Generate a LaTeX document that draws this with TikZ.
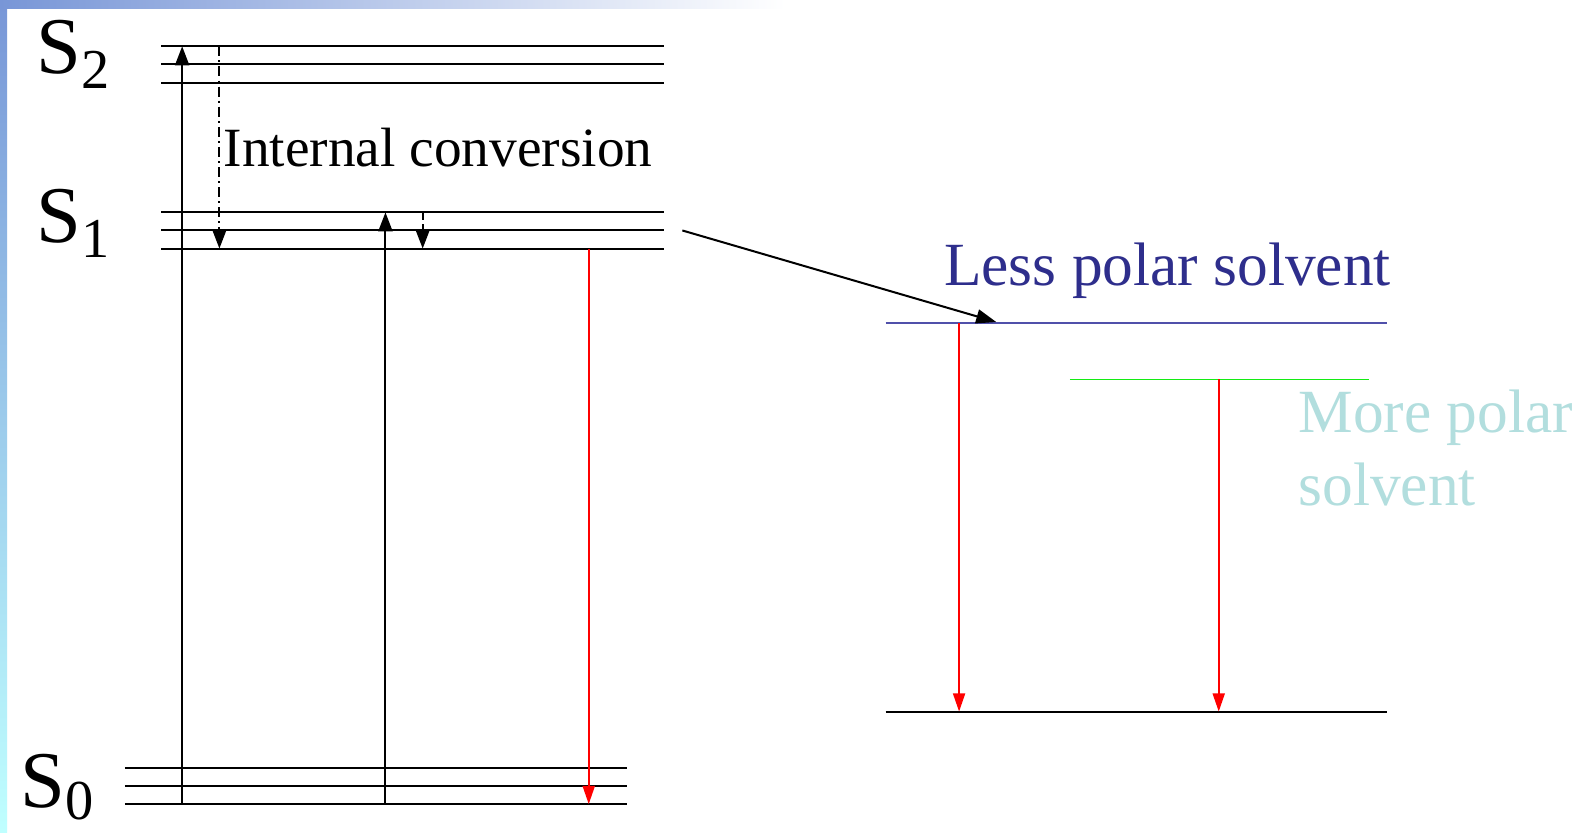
\documentclass[tikz,border=0pt]{standalone}
\usepackage{fontspec}
\setmainfont{Liberation Serif}
\usetikzlibrary{arrows.meta,calc}

\definecolor{lessblue}{RGB}{46,46,140}
\definecolor{levelblue}{RGB}{80,80,170}
\definecolor{morecyan}{RGB}{178,222,222}
\definecolor{levelgreen}{RGB}{20,235,20}
\definecolor{slideblue}{RGB}{120,150,215}

\begin{document}
\begin{tikzpicture}[x=1pt, y=-1pt,
    level/.style={line width=2pt},
    up/.style={line width=2pt, -{Triangle[length=19pt, width=14pt]}},
    ic/.style={line width=2pt, -{Triangle[length=19pt, width=14pt]}},
    emit/.style={red, line width=1.6pt, -{Triangle[length=18pt, width=12pt]}},
    big/.style={font=\fontsize{80}{90}\selectfont, anchor=base west, inner sep=0pt}
]

    \useasboundingbox (0,0) rectangle (1568,827);

    % slide background at the edges
    \fill[white] (0,0) rectangle (1568,827);
    \shade[top color=slideblue, bottom color=cyan!25] (0,0) rectangle (7,827);
    \shade[left color=slideblue, right color=white] (0,0) rectangle (780,8);

    % electronic levels
    \foreach \y [count=\i] in {46,64,82}
        \draw[level] (160,\y) coordinate (S2l\i) -- (660,\y) coordinate (S2r\i);
    \foreach \y [count=\i] in {211,229,247}
        \draw[level] (160,\y) coordinate (S1l\i) -- (660,\y) coordinate (S1r\i);
    \foreach \y [count=\i] in {763,781,799}
        \draw[level] (124,\y) coordinate (S0l\i) -- (623,\y) coordinate (S0r\i);

    \draw[levelblue, line width=1.8pt] (880,321) coordinate (Ll) -- (1378,321) coordinate (Lr);
    \draw[levelgreen, line width=1.8pt] (1063,377) coordinate (Ml) -- (1360,377) coordinate (Mr);
    \draw[level] (880,707) coordinate (Gl) -- (1378,707) coordinate (Gr);

    \node[big] (S2) at (36,73) {S\raisebox{-15pt}{\fontsize{56}{60}\selectfont 2}};
    \node[big] (S1) at (36,241) {S\raisebox{-15pt}{\fontsize{56}{60}\selectfont 1}};
    \node[big] (S0) at (20,802) {S\raisebox{-12pt}{\fontsize{56}{60}\selectfont 0}};

    % transitions
    \coordinate (xa) at (181,0);
    \coordinate (xb) at (218,0);
    \coordinate (xc) at (383,0);
    \coordinate (xd) at (420,0);
    \coordinate (xe) at (585,0);
    \coordinate (xf) at (953,0);
    \coordinate (xg) at (1211,0);

    \draw[up] (xa |- S0l3) -- (xa |- S2l1);
    \draw[ic, dash pattern=on 10pt off 4pt on 2pt off 4pt] (xb |- S2l1) -- (xb |- S1l3);
    \draw[up] (xc |- S0l3) -- (xc |- S1l1);
    \draw[ic, dash pattern=on 8pt off 4pt] (xd |- S1l1) -- (xd |- S1l3);
    \draw[emit] (xe |- S1l3) -- (xe |- S0l3);

    \draw[emit] (xf |- Ll) -- (xf |- Gl);
    \draw[emit] (xg |- Ml) -- (xg |- Gl);

    \coordinate (shiftend) at (990,320);
    \draw[line width=2pt, -{Triangle[length=20pt, width=14pt]}] ($(S1r2)+(18,0)$) -- (shiftend);

    \node[anchor=base west, inner sep=0pt, font=\fontsize{55}{60}\selectfont] (icl) at (222,165) {Internal conversion};
    \node[anchor=base west, inner sep=0pt, lessblue, font=\fontsize{61}{66}\selectfont] (less) at (938,284) {Less polar solvent};
    \node[anchor=base west, inner sep=0pt, morecyan, align=left, font=\fontsize{61}{72}\selectfont] (more) at (1290,502) {More polar\\solvent};

\end{tikzpicture}
\end{document}
